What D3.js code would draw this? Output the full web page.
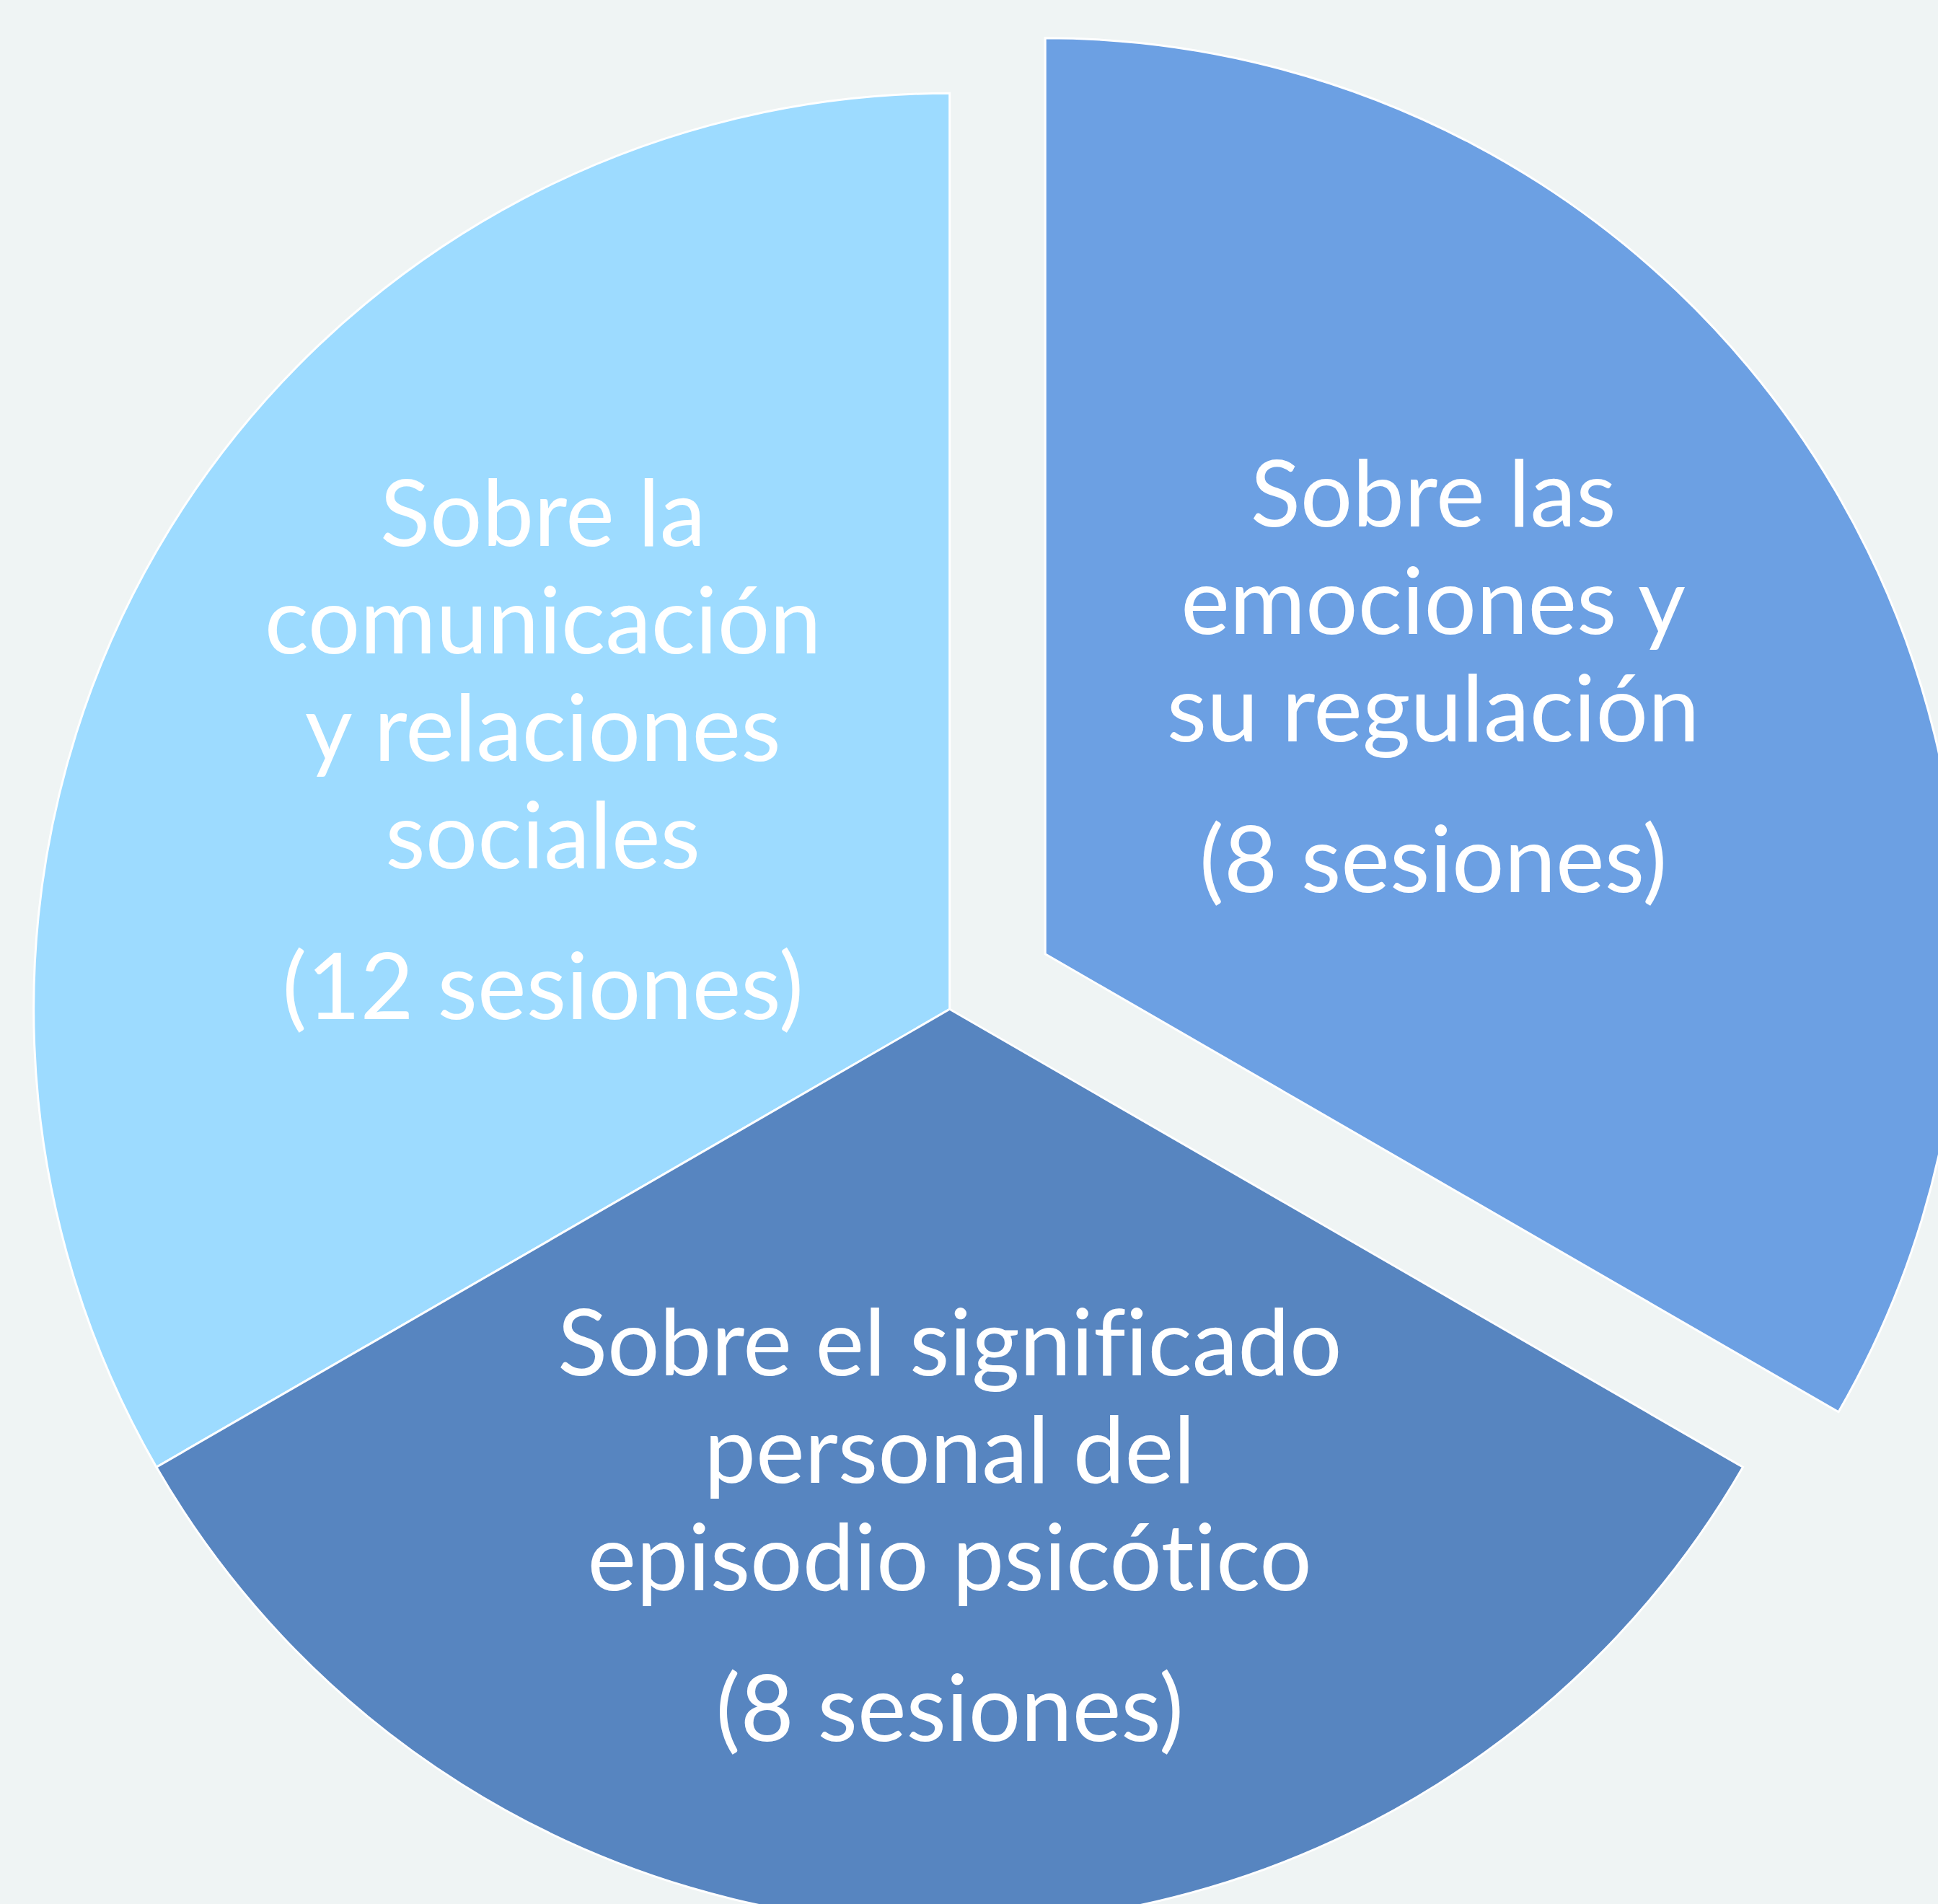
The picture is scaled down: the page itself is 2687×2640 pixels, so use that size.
<!DOCTYPE html>
<html>
<head>
<meta charset="utf-8">
<script src="https://cdn.jsdelivr.net/npm/d3@7"></script>
<style>
  html, body { margin: 0; padding: 0; background: #eff4f4; overflow: hidden; }
  svg { display: block; }
  text { font-variant-ligatures: none; font-feature-settings: "liga" 0, "clig" 0, "dlig" 0; }
</style>
</head>
<body>
<svg id="chart"></svg>
<script>
// session blocks, in clockwise order starting at the left slice
const topics = ['comunicacion', 'emociones', 'significado']
const topicLines = [
  ['Sobre la', 'comunicación', 'y relaciones', 'sociales'],
  ['Sobre las', 'emociones y', 'su regulación'],
  ['Sobre el significado', 'personal del', 'episodio psicótico']
]
const sessions = [12, 8, 8]
// the diagram gives every block the same slice, whatever its sessions
const shares = [1, 1, 1]

const width = 2687
const height = 2640
const cx = 1316.7
const cy = 1399.3
const radius = 1270

const colors = ['#9ddbff', '#6ca0e3', '#5785c0']
const explode = [0, 153, 0]
const labelRadius = [0.511, 0.50, 0.599]
// small shifts of the text box inside its slice
const labelShift = [[-2, 10], [-12, -22], [0, 0]]
const fontSize = 128
const lineHeight = 149
const sessionGap = 60

const svg = d3.select('#chart')
  .attr('width', width)
  .attr('height', height)
  .attr('viewBox', `0 0 ${width} ${height}`)

svg.append('rect').attr('width', width).attr('height', height).attr('fill', '#eff4f4')

const pie = d3.pie()
  .sort(null)
  .value((d, i) => shares[i])
  .startAngle(-2 * Math.PI / 3)
  .endAngle(4 * Math.PI / 3)

const arcs = pie(topics)
const arc = d3.arc().innerRadius(0).outerRadius(radius)

const g = svg.append('g').attr('transform', `translate(${cx},${cy})`)

const slice = g.selectAll('g.slice')
  .data(arcs)
  .enter()
  .append('g')
  .attr('class', 'slice')
  .attr('transform', (d, i) => {
    const mid = (d.startAngle + d.endAngle) / 2
    return `translate(${Math.sin(mid) * explode[i]},${-Math.cos(mid) * explode[i]})`
  })

slice.append('path')
  .attr('d', arc)
  .attr('fill', (d, i) => colors[i])
  .attr('stroke', '#ffffff')
  .attr('stroke-width', 3)
  .attr('stroke-linejoin', 'miter')

slice.each(function (d, i) {
  const lines = topicLines[i].concat([`(${sessions[i]} sesiones)`])
  const total = (lines.length - 1) * lineHeight + sessionGap
  const r = radius * labelRadius[i]
  const c = d3.arc().innerRadius(r).outerRadius(r).centroid(d)
  const px = c[0] + labelShift[i][0]
  const py = c[1] + labelShift[i][1]

  const text = d3.select(this).append('text')
    .attr('text-anchor', 'middle')
    .attr('font-family', 'Lato, "Open Sans", sans-serif')
    .attr('font-size', fontSize)
    .attr('fill', '#ffffff')

  lines.forEach((line, j) => {
    const y = py - total / 2 + j * lineHeight + (j === lines.length - 1 ? sessionGap : 0)
    text.append('tspan')
      .attr('x', px)
      .attr('y', y)
      .text(line)
  })
})
</script>
</body>
</html>
